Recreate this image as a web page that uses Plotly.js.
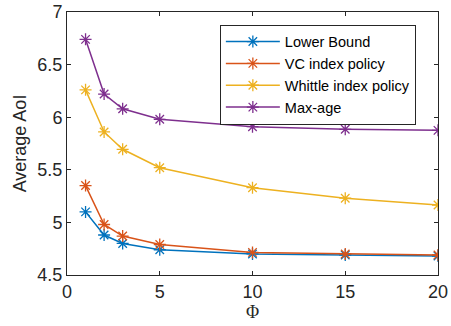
<!DOCTYPE html>
<html><head><meta charset="utf-8">
<script src="https://cdn.plot.ly/plotly-3.0.1.min.js"></script>
<style>html,body{margin:0;padding:0;background:#fff;}</style>
</head><body>
<div id="chart" style="width:451px;height:326px;"></div>
<script>
const phi = [1, 2, 3, 5, 10, 15, 20];
const lowerBound = [5.10, 4.88, 4.80, 4.74, 4.70, 4.69, 4.68];
const vcIndex = [5.35, 4.98, 4.87, 4.79, 4.715, 4.70, 4.69];
const whittleIndex = [6.26, 5.86, 5.695, 5.52, 5.33, 5.23, 5.165];
const maxAge = [6.74, 6.22, 6.08, 5.98, 5.91, 5.885, 5.875];
const names = ['Lower Bound', 'VC index policy', 'Whittle index policy', 'Max-age'];
const colors = ['#0072BD', '#D95319', '#EDB120', '#7E2F8E'];
const series = [lowerBound, vcIndex, whittleIndex, maxAge];

const traces = series.map((ys, i) => ({
  x: phi, y: ys, name: names[i], type: 'scatter', mode: 'lines+markers',
  line: {color: colors[i], width: 1.5},
  marker: {symbol: 'asterisk-open', size: 10, color: colors[i], line: {color: colors[i], width: 1.3}}
}));

const sans = 'Liberation Sans, Arial, sans-serif';
const axisCommon = {
  showline: true, mirror: 'ticks', linecolor: '#262626', linewidth: 1,
  ticks: 'inside', ticklen: 4, tickcolor: '#262626', showgrid: false, zeroline: false,
  tickfont: {family: sans, size: 18, color: '#262626'}
};

const layout = {
  width: 451, height: 326,
  margin: {l: 67, r: 13, t: 12, b: 51},
  paper_bgcolor: '#fff', plot_bgcolor: '#fff',
  showlegend: true,
  legend: {x: 0.412, y: 0.952, xanchor: 'left', yanchor: 'top',
    bordercolor: '#262626', borderwidth: 1, bgcolor: '#fff',
    font: {family: sans, size: 14.5, color: '#000'},
    itemwidth: 54,
    tracegroupgap: 0},
  xaxis: Object.assign({}, axisCommon, {range: [0, 20], tickvals: [0, 5, 10, 15, 20],
    title: {text: 'Φ', font: {family: 'Liberation Serif, Times New Roman, serif', size: 18, color: '#262626'}, standoff: 4}}),
  yaxis: Object.assign({}, axisCommon, {range: [4.5, 7], tickvals: [4.5, 5, 5.5, 6, 6.5, 7],
    ticktext: ['4.5', '5', '5.5', '6', '6.5', '7'],
    title: {text: 'Average AoI', font: {family: sans, size: 18, color: '#262626'}, standoff: 6}})
};

Plotly.newPlot('chart', traces, layout, {displayModeBar: false, staticPlot: true});
</script>
</body></html>
